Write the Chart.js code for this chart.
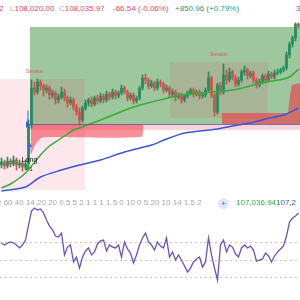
<!DOCTYPE html>
<html>
<head>
<meta charset="utf-8">
<script src="https://cdn.jsdelivr.net/npm/chart.js@4.4.1/dist/chart.umd.min.js"></script>
<style>
  html, body { margin: 0; padding: 0; background: #fff; }
  #wrap { position: relative; width: 300px; height: 300px; overflow: hidden; font-family: 'Liberation Sans', Arial, sans-serif; }
  canvas { position: absolute; left: 0; }
  #price { top: 14px; }
  #osc { top: 200px; }
  .t { position: absolute; white-space: nowrap; font-size: 8px; line-height: 10px; }
  .dn { color: #e8475b; }
  .lb { color: #f09aa5; }
  .up { color: #1f9b73; }
  .gr { color: #a2a5ae; }
  .ic { position: absolute; left: 218px; top: 198px; width: 11px; height: 11px; border-radius: 50%; background: #dfe7fb; color: #3d63d8; font-size: 8px; line-height: 11px; text-align: center; }
</style>
</head>
<body>
<div id="wrap">
  <canvas id="price" width="300" height="182"></canvas>
  <canvas id="osc" width="300" height="100"></canvas>

  <div class="t dn" style="left:-1px;top:4px">2</div>
  <div class="t" style="left:10px;top:4px"><span class="lb">L</span><span class="dn">108,020.00</span></div>
  <div class="t" style="left:59px;top:4px"><span class="lb">C</span><span class="dn">108,035.97</span></div>
  <div class="t dn" style="left:113px;top:4px">-66.54 (-0.06%)</div>
  <div class="t up" style="left:175px;top:4px">+850.96 (+0.79%)</div>
  <div class="t" style="left:296px;top:4px;color:#b43cc8">3</div>

  <div class="t gr" style="left:-3px;top:198px">e 60 40 14 20 20 0.5 5 2 1 1 1 1.5 0 10 0 5 20 10 14 1.5 2</div>
  <div class="ic">+</div>
  <div class="t" style="left:236px;top:198px;color:#3aa845">107,036.94</div>
  <div class="t" style="left:276px;top:198px;color:#3458d6">107,2</div>
</div>

<script>
// candles, left to right (15m bars)
const open = [106650,106680,106640,106690,106660,106700,106650,106670,106630,106660,
  107050,107420,107380,107480,107440,107400,107420,107350,107370,107300,
  107330,107380,107320,107270,107300,107230,107180,107100,107220,107270,
  107300,107260,107320,107290,107340,107300,107360,107330,107380,107340,
  107370,107420,107380,107320,107350,107290,107320,107420,107520,107500,
  107440,107470,107420,107480,107460,107400,107420,107360,107380,107330,
  107350,107300,107340,107370,107400,107360,107380,107340,107350,107400,
  107520,107350,107180,107450,107380,107550,107500,107580,107520,107460,
  107500,107580,107600,107540,107570,107500,107450,107480,107540,107500,
  107560,107530,107570,107580,107600,107620,107750,107860,107920,108060];
const high = [106720,106700,106730,106710,106740,106720,106700,106690,106700,107100,
  107500,107480,107510,107500,107460,107450,107440,107400,107390,107360,
  107430,107410,107340,107330,107320,107260,107220,107240,107300,107320,
  107330,107340,107350,107370,107360,107390,107380,107410,107400,107390,
  107450,107440,107400,107370,107370,107340,107440,107550,107560,107520,
  107500,107490,107510,107500,107480,107450,107440,107410,107400,107370,
  107370,107360,107390,107420,107420,107400,107400,107380,107420,107580,
  107540,107370,107470,107480,107660,107600,107620,107600,107550,107530,
  107600,107640,107620,107590,107590,107520,107510,107560,107560,107590,
  107580,107600,107610,107620,107640,107780,107880,107940,108070,108070];
const low = [106620,106610,106620,106630,106640,106600,106620,106590,106600,106630,
  107020,107350,107360,107400,107340,107370,107310,107320,107260,107270,
  107310,107290,107230,107250,107200,107150,107050,107080,107200,107240,
  107230,107240,107260,107270,107270,107280,107300,107310,107310,107320,
  107350,107360,107290,107300,107260,107270,107300,107400,107460,107410,
  107420,107390,107400,107430,107370,107380,107330,107340,107290,107310,
  107270,107280,107320,107350,107330,107340,107310,107320,107330,107380,
  107320,107140,107160,107350,107360,107460,107480,107500,107430,107440,
  107480,107550,107510,107520,107470,107420,107430,107460,107470,107480,
  107510,107510,107550,107560,107580,107600,107720,107830,107890,108020];
const close = [106680,106640,106690,106660,106700,106650,106670,106630,106660,107050,
  107420,107380,107480,107440,107400,107420,107350,107370,107300,107330,
  107380,107320,107270,107300,107230,107180,107100,107220,107270,107300,
  107260,107320,107290,107340,107300,107360,107330,107380,107340,107370,
  107420,107380,107320,107350,107290,107320,107420,107520,107500,107440,
  107470,107420,107480,107460,107400,107420,107360,107380,107330,107350,
  107300,107340,107370,107400,107360,107380,107340,107350,107400,107520,
  107350,107180,107450,107380,107550,107500,107580,107520,107460,107500,
  107580,107600,107540,107570,107500,107450,107480,107540,107500,107560,
  107530,107570,107580,107600,107620,107750,107860,107920,108060,108036];

// moving averages: [bar, price]
const emaLine = [[0,106420],[3,106460],[6,106520],[8,106570],[10,106640],[13,106750],[16,106840],
  [19,106900],[22,106960],[24,107000],[26,107020],[33,107100],[38,107160],[44,107230],[50,107280],
  [60,107350],[66,107370],[77,107400],[88,107480],[94,107510],[96,107530],[98,107580],[99,107610]];
const smaLine = [[0,106390],[8,106430],[13,106530],[20,106600],[26,106650],[33,106700],[41,106780],
  [50,106850],[55,106910],[61,106970],[66,106990],[72,107010],[77,107040],[83,107070],[88,107110],
  [94,107150],[99,107220]];

// red trailing fills against the entry level: [bar, price]
const trailA = [[9.8,106750],[11.2,106850],[12.8,106910],[14.5,106930],[46.5,106930],[47.3,107000]];
const trailB = [[73.5,107170],[95.5,107170],[96.2,107350],[96.8,107450],[99.5,107470]];

// long position tool
const entryBar = 9.5;
const entryPrice = 107060;
const targetPrice = 108030;
const stopPrice = 107000;

// session boxes: bar range and price range
const sessFrom = [-5.5, 56.2];
const sessTo = [27.8, 88.8];
const sessLow = [106400, 107120];
const sessHigh = [107510, 107680];

// oscillator pane
const oscValues = [59.4,58.3,59.4,60.0,59.4,58.3,56.6,58.3,61.1,69.7,
  77.7,79.4,78.3,78.9,76.6,72.6,69.1,66.9,63.4,62.9,
  65.1,52.6,57.1,58.3,48.6,51.4,45.1,51.4,54.9,56.6,
  52.6,54.3,58.9,60.6,61.1,54.9,58.3,57.1,56.6,58.3,
  51.4,60.0,56.0,53.7,48.0,52.6,58.3,62.3,65.1,60.0,
  58.3,55.4,60.0,57.7,56.6,62.3,51.4,54.3,49.7,52.6,
  49.7,46.3,42.9,45.1,48.6,50.3,51.4,45.7,48.6,62.3,
  52.6,45.1,38.3,58.3,61.1,54.3,58.3,57.1,53.1,51.4,
  56.6,58.3,56.6,57.7,55.4,49.1,49.7,50.3,53.7,52.0,
  48.6,52.0,54.3,56.0,57.7,63.4,71.4,73.7,74.9,76.6];
const oscLevels = [60, 50, 40];

const bars = open.map((_, i) => i);
const upCol = '#1f8f5c', dnCol = '#d4504c';
const candleCol = ctx => close[ctx.dataIndex] >= open[ctx.dataIndex] ? upCol : dnCol;
const pts = arr => arr.map(p => ({x: p[0], y: p[1]}));

const zones = {
  id: 'zones',
  beforeDatasetsDraw(chart) {
    const {ctx, scales: {x, y}} = chart;
    const box = (x0, x1, p0, p1, color) => {
      const l = x.getPixelForValue(x0), r = x.getPixelForValue(x1);
      const t = y.getPixelForValue(p1), b = y.getPixelForValue(p0);
      ctx.fillStyle = color;
      ctx.fillRect(l, t, r - l, b - t);
    };
    ctx.save();
    box(entryBar, 100, entryPrice, targetPrice, 'rgba(40,130,40,0.45)');
    box(entryBar, 100, stopPrice, entryPrice, 'rgba(242,54,69,0.22)');
    sessFrom.forEach((f, k) => box(f, sessTo[k], sessLow[k], sessHigh[k], 'rgba(240,60,100,0.12)'));
    ctx.restore();
  },
  afterDatasetsDraw(chart) {
    const {ctx, scales: {x, y}} = chart;
    ctx.save();
    // entry line + marker
    const ey = Math.round(y.getPixelForValue(entryPrice)) + 0.5;
    const ex = x.getPixelForValue(entryBar);
    ctx.strokeStyle = 'rgba(80,90,170,0.8)';
    ctx.lineWidth = 1;
    ctx.beginPath(); ctx.moveTo(ex, ey); ctx.lineTo(300, ey); ctx.stroke();
    ctx.fillStyle = '#2f5fe0';
    ctx.beginPath(); ctx.moveTo(ex - 4, ey - 3.5); ctx.lineTo(ex, ey); ctx.lineTo(ex - 4, ey + 3.5); ctx.closePath(); ctx.fill();
    ctx.fillRect(ex - 2.5, ey - 14, 1, 12);
    // session labels
    ctx.font = '5px "Liberation Sans", Arial';
    ctx.fillStyle = '#e0506a';
    ctx.textAlign = 'center';
    ctx.textBaseline = 'middle';
    sessFrom.forEach((f, k) => {
      const cx = (x.getPixelForValue(f) + x.getPixelForValue(sessTo[k])) / 2;
      ctx.fillText('Session', cx, y.getPixelForValue(sessHigh[k]) - 7);
    });
    // long signal under the breakout candle
    const sx = x.getPixelForValue(9) + 1;
    const base = y.getPixelForValue(low[9]);
    ctx.fillStyle = '#3d6ee0';
    ctx.beginPath(); ctx.moveTo(sx, base - 25); ctx.lineTo(sx + 2.5, base - 20); ctx.lineTo(sx - 2.5, base - 20); ctx.closePath(); ctx.fill();
    ctx.fillRect(sx - 0.75, base - 20, 1.5, 7);
    ctx.fillStyle = '#111';
    ctx.font = '7px "Liberation Sans", Arial';
    ctx.fillText('Long', sx, base - 7);
    ctx.fillStyle = '#2e9e3e';
    ctx.beginPath(); ctx.moveTo(sx - 3, base - 1); ctx.lineTo(sx - 0.5, base - 3); ctx.lineTo(sx - 0.5, base + 3); ctx.lineTo(sx - 4, base + 3); ctx.closePath(); ctx.fill();
    ctx.fillStyle = '#111';
    ctx.font = '6px "Liberation Sans", Arial';
    ctx.fillText('1', sx + 1.5, base + 2);
    ctx.restore();
  }
};

new Chart(document.getElementById('price'), {
  type: 'bar',
  data: {
    datasets: [
      {type: 'line', data: pts(trailA), borderWidth: 0, pointRadius: 0, tension: 0.3,
        fill: {value: entryPrice}, backgroundColor: 'rgba(242,54,69,0.55)', order: 10},
      {type: 'line', data: pts(trailB), borderWidth: 0, pointRadius: 0,
        fill: {value: entryPrice}, backgroundColor: 'rgba(242,54,69,0.6)', order: 9},
      {data: bars.map(i => ({x: i, y: [low[i], high[i]]})), backgroundColor: candleCol,
        barThickness: 1, grouped: false, order: 5},
      {data: bars.map(i => ({x: i, y: [open[i], close[i]]})), backgroundColor: candleCol,
        barThickness: 2, minBarLength: 1, grouped: false, order: 4},
      {type: 'line', data: pts(emaLine), borderColor: '#35ad36', borderWidth: 1.5,
        pointRadius: 0, tension: 0.3, order: 2},
      {type: 'line', data: pts(smaLine), borderColor: '#3b55d9', borderWidth: 1.5,
        pointRadius: 0, tension: 0.3, order: 1}
    ]
  },
  options: {
    responsive: false,
    animation: false,
    devicePixelRatio: 1,
    events: [],
    layout: {padding: 0},
    plugins: {legend: {display: false}, tooltip: {enabled: false}},
    scales: {
      x: {type: 'linear', min: -0.5, max: 99.5, offset: false, display: false},
      y: {min: 106340, max: 108160, display: false}
    }
  },
  plugins: [zones]
});

const bands = {
  id: 'bands',
  beforeDatasetsDraw(chart) {
    const {ctx, chartArea: a, scales: {y}} = chart;
    ctx.save();
    ctx.strokeStyle = '#c4c6cc';
    ctx.lineWidth = 1;
    ctx.setLineDash([2, 3]);
    oscLevels.forEach(v => {
      const py = Math.round(y.getPixelForValue(v)) + 0.5;
      ctx.beginPath(); ctx.moveTo(a.left, py); ctx.lineTo(a.right, py); ctx.stroke();
    });
    ctx.restore();
  }
};

new Chart(document.getElementById('osc'), {
  type: 'line',
  data: {
    datasets: [{
      data: bars.map(i => ({x: i, y: oscValues[i]})),
      borderColor: '#7050c0', borderWidth: 1.3, pointRadius: 0, tension: 0
    }]
  },
  options: {
    responsive: false,
    animation: false,
    devicePixelRatio: 1,
    events: [],
    layout: {padding: 0},
    plugins: {legend: {display: false}, tooltip: {enabled: false}},
    scales: {
      x: {type: 'linear', min: -0.5, max: 99.5, display: false},
      y: {min: 26.86, max: 84, display: false}
    }
  },
  plugins: [bands]
});
</script>
</body>
</html>
